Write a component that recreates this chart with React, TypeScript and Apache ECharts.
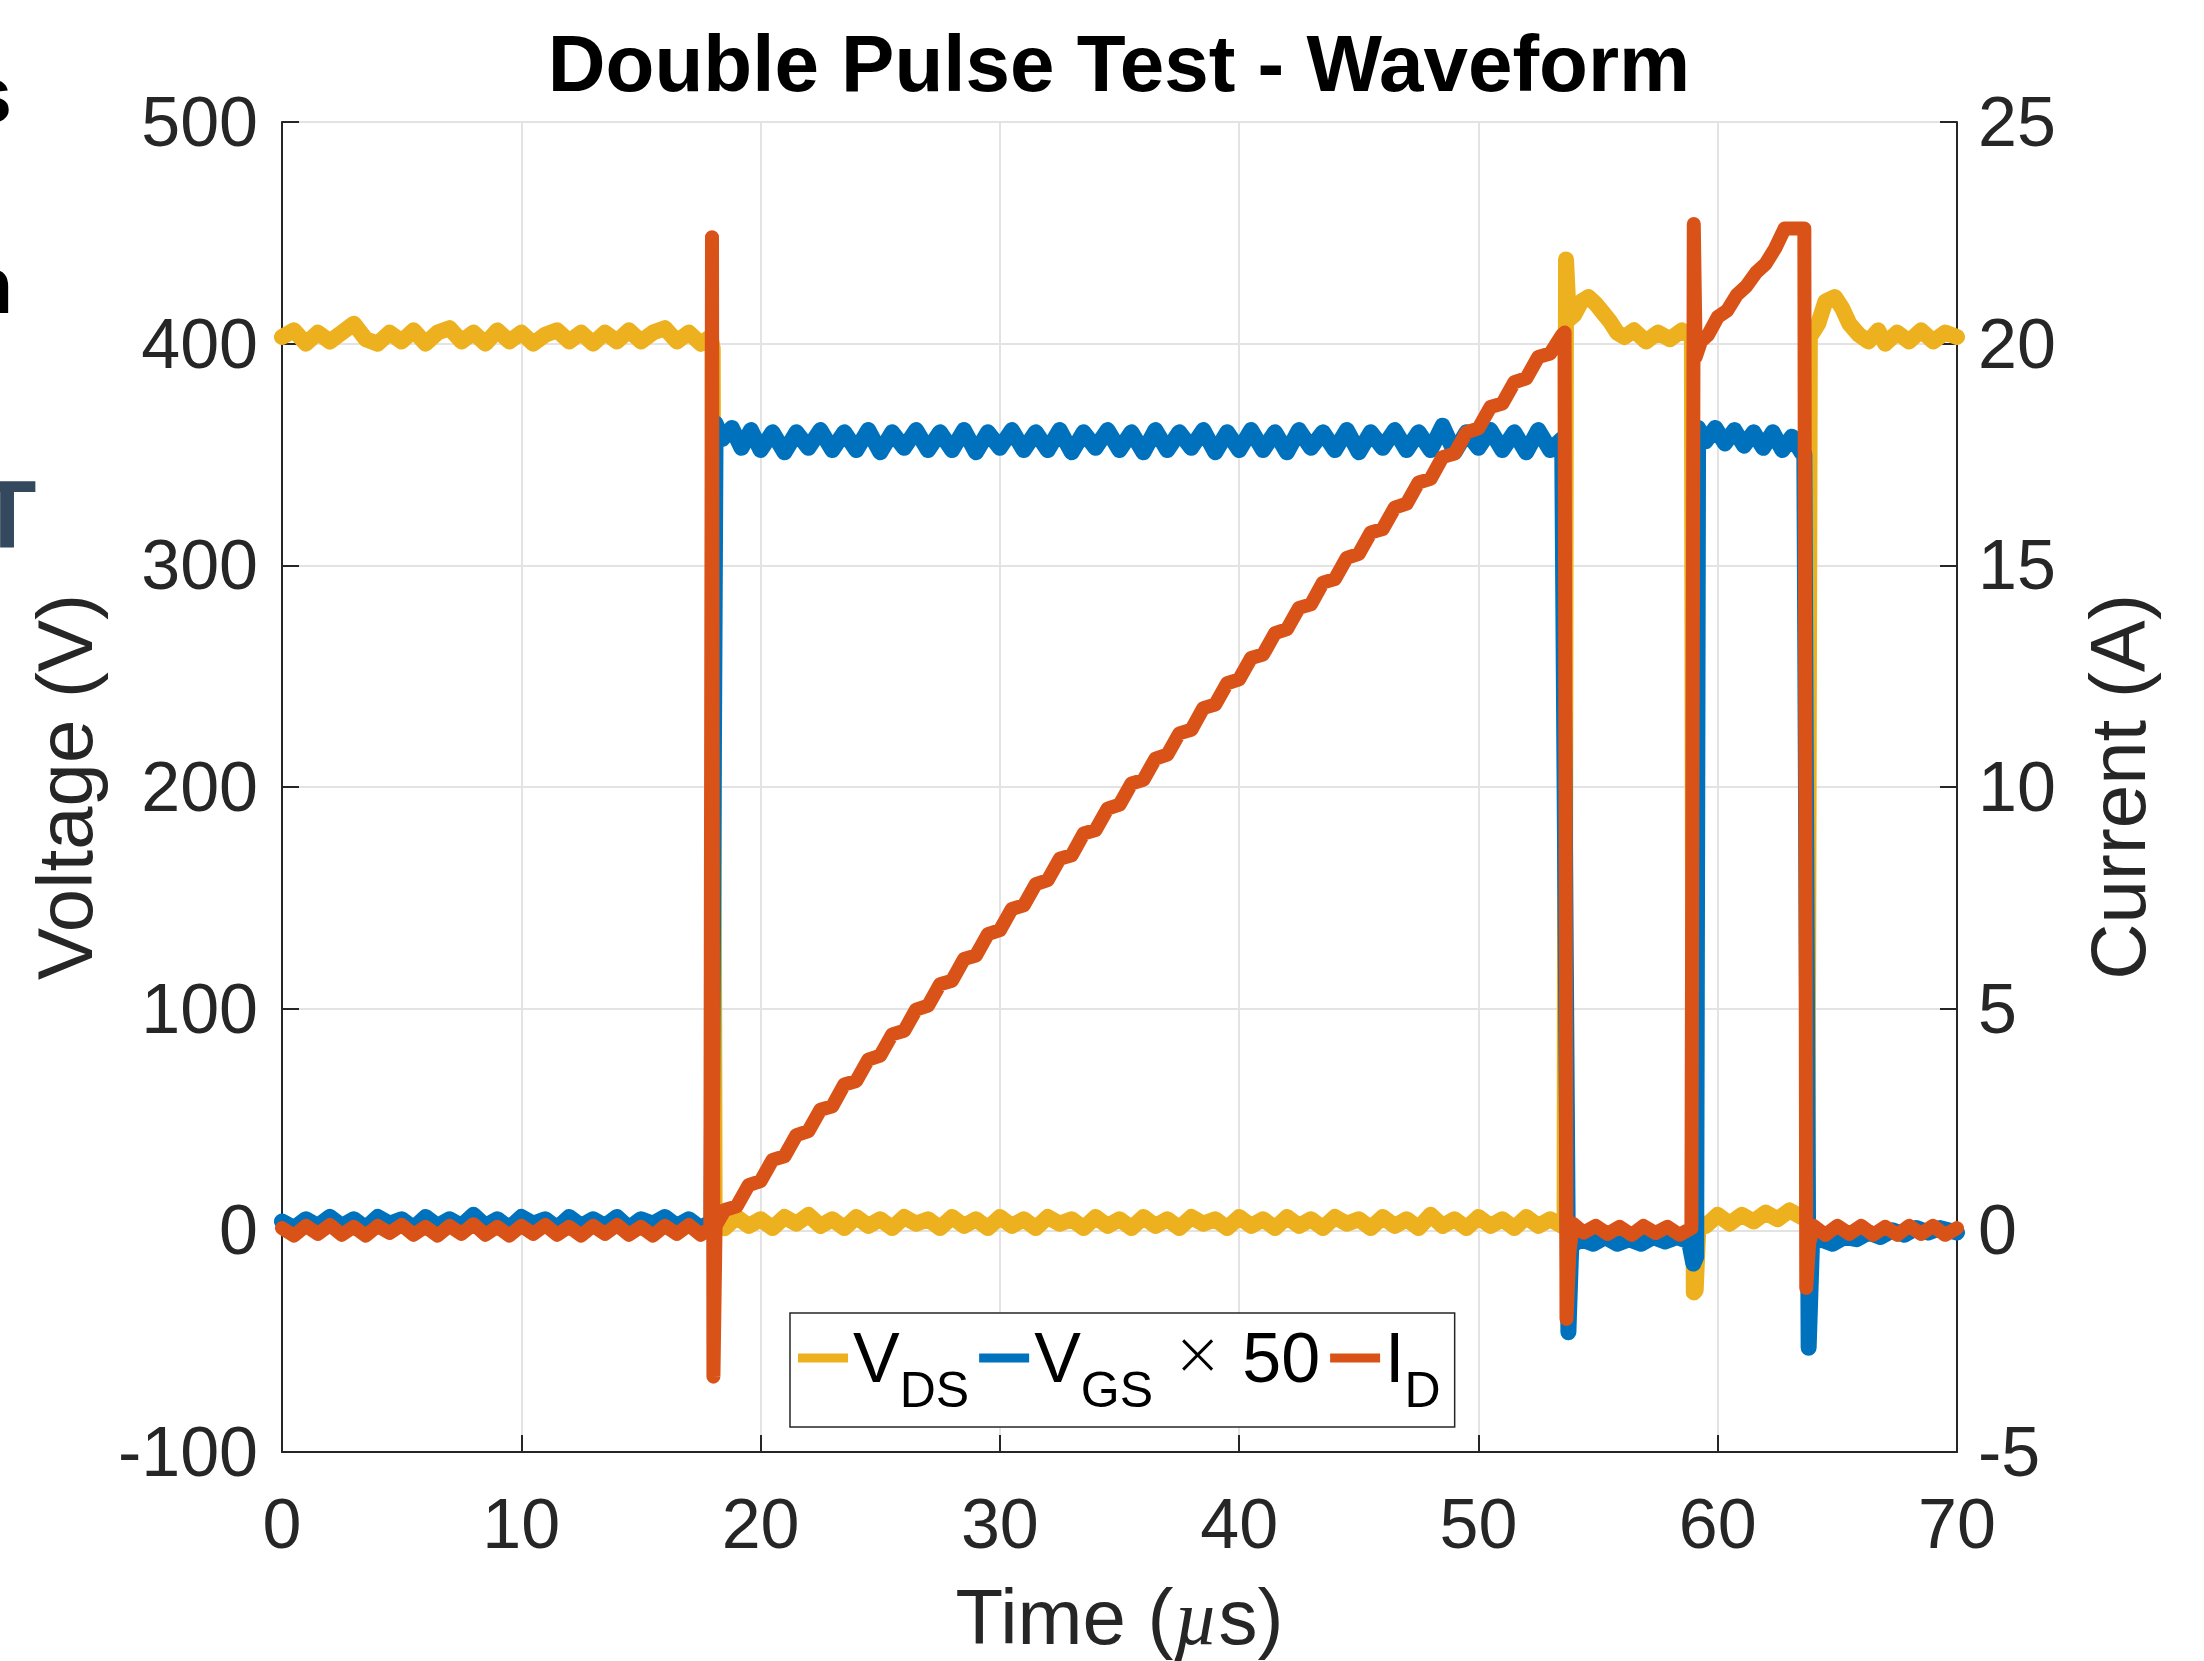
import React, { useEffect, useRef } from "react";
import * as echarts from "echarts";

const FONT = '"Liberation Sans", Arial, Helvetica, sans-serif';

const titleText = "Double Pulse Test - Waveform";
const seriesNames = ["VDS", "VGS", "ID"];
const seriesColors = ["#EDB120", "#0072BD", "#D95319"];
const seriesWidths = [16, 16, 14];

// V_DS (V) vs time (µs)
const vds: [number, number][] = [
  [0, 403], [0.5, 406], [1, 400], [1.5, 405], [2, 401], [2.5, 405], [3, 409], [3.5, 402], [4, 400], [4.5, 405],
  [5, 401], [5.5, 406], [6, 400], [6.5, 405], [7, 407], [7.5, 401], [8, 405], [8.5, 400], [9, 406], [9.5, 401],
  [10, 405], [10.5, 400], [11, 404], [11.5, 406], [12, 401], [12.5, 405], [13, 400], [13.5, 405], [14, 401], [14.5, 406],
  [15, 401], [15.5, 405], [16, 407], [16.5, 401], [17, 405], [17.5, 400], [17.9, 403], [18.0, 398],
  [18.08, 4], [18.5, 1], [19, 6], [19.5, 2], [20, 5], [20.5, 1], [21, 6], [21.5, 3], [22, 7], [22.5, 2],
  [23, 5], [23.5, 1], [24, 6], [24.5, 2], [25, 5], [25.5, 1], [26, 6], [26.5, 3], [27, 5], [27.5, 1],
  [28, 6], [28.5, 2], [29, 5], [29.5, 1], [30, 6], [30.5, 2], [31, 5], [31.5, 1], [32, 6], [32.5, 3],
  [33, 5], [33.5, 1], [34, 6], [34.5, 2], [35, 5], [35.5, 1], [36, 6], [36.5, 2], [37, 5], [37.5, 1],
  [38, 6], [38.5, 3], [39, 5], [39.5, 1], [40, 6], [40.5, 2], [41, 5], [41.5, 1], [42, 6], [42.5, 2],
  [43, 5], [43.5, 1], [44, 6], [44.5, 3], [45, 5], [45.5, 1], [46, 6], [46.5, 2], [47, 5], [47.5, 1],
  [48, 7], [48.5, 2], [49, 5], [49.5, 1], [50, 6], [50.5, 2], [51, 5], [51.5, 1], [52, 6], [52.5, 2],
  [53, 5], [53.5, 2],
  [53.6, 3], [53.66, 438], [53.78, 411], [54.0, 413], [54.3, 419], [54.6, 421], [54.9, 418], [55.2, 414], [55.5, 410], [55.8, 405],
  [56.1, 403], [56.5, 406], [57, 401], [57.5, 405], [58, 402], [58.5, 406], [58.92, 403], [59.0, -28], [59.08, -27], [59.2, 4],
  [59.5, 2], [60, 7], [60.5, 3], [61, 7], [61.5, 4], [62, 8], [62.5, 5], [63, 9], [63.5, 6], [63.75, 7],
  [63.85, 403], [64.2, 409], [64.5, 419], [64.9, 421], [65.2, 416], [65.5, 409], [65.9, 404], [66.3, 401], [66.7, 406], [67, 400],
  [67.5, 405], [68, 401], [68.5, 406], [69, 401], [69.5, 405], [70, 403],
];

// V_GS x 50 (V) vs time (µs)
const vgs: [number, number][] = [
  [0, 4], [0.5, 1], [1, 5], [1.5, 2], [2, 6], [2.5, 2], [3, 5], [3.5, 1], [4, 6], [4.5, 3],
  [5, 5], [5.5, 1], [6, 6], [6.5, 2], [7, 5], [7.5, 2], [8, 7], [8.5, 2], [9, 5], [9.5, 1],
  [10, 6], [10.5, 3], [11, 5], [11.5, 1], [12, 6], [12.5, 2], [13, 5], [13.5, 2], [14, 6], [14.5, 1],
  [15, 5], [15.5, 3], [16, 6], [16.5, 2], [17, 5], [17.5, 1], [17.95, 4],
  [18.12, 364], [18.4, 357], [18.8, 362], [19.2, 353], [19.6, 361], [20, 352], [20.5, 360], [21, 351], [21.5, 360], [22, 353],
  [22.5, 361], [23, 352], [23.5, 360], [24, 352], [24.5, 361], [25, 351], [25.5, 360], [26, 353], [26.5, 361], [27, 352],
  [27.5, 360], [28, 352], [28.5, 361], [29, 351], [29.5, 360], [30, 353], [30.5, 361], [31, 352], [31.5, 360], [32, 352],
  [32.5, 361], [33, 351], [33.5, 360], [34, 353], [34.5, 361], [35, 352], [35.5, 360], [36, 351], [36.5, 361], [37, 352],
  [37.5, 360], [38, 353], [38.5, 361], [39, 351], [39.5, 360], [40, 352], [40.5, 361], [41, 352], [41.5, 360], [42, 351],
  [42.5, 361], [43, 353], [43.5, 360], [44, 352], [44.5, 361], [45, 351], [45.5, 360], [46, 353], [46.5, 361], [47, 352],
  [47.5, 360], [48, 352], [48.5, 363], [49, 351], [49.5, 360], [50, 353], [50.5, 361], [51, 352], [51.5, 360], [52, 351],
  [52.5, 361], [53, 352], [53.5, 357],
  [53.76, -46], [53.88, -7], [54.3, -4], [54.8, -6], [55.3, -3], [55.8, -6], [56.3, -4], [56.8, -6], [57.3, -3], [57.8, -5],
  [58.3, -3], [58.8, -5], [58.98, -15], [59.1, -12], [59.18, 362], [59.5, 356], [59.9, 362], [60.3, 355], [60.7, 361], [61.1, 354],
  [61.5, 360], [61.9, 353], [62.3, 360], [62.7, 352], [63.1, 358], [63.5, 351], [63.62, 350],
  [63.8, -53], [63.94, -6], [64.3, -4], [64.8, -6], [65.3, -3], [65.8, -4], [66.3, -1], [66.8, -3], [67.3, 0], [67.8, -2],
  [68.3, 1], [68.8, -1], [69.3, 1], [70, -1],
];

// I_D (A) vs time (µs)
const idc: [number, number][] = [
  [0, 0.05], [0.5, -0.12], [1, 0.1], [1.5, -0.08], [2, 0.12], [2.5, -0.1], [3, 0.08], [3.5, -0.12], [4, 0.1], [4.5, -0.06],
  [5, 0.12], [5.5, -0.1], [6, 0.08], [6.5, -0.12], [7, 0.1], [7.5, -0.08], [8, 0.14], [8.5, -0.1], [9, 0.08], [9.5, -0.12],
  [10, 0.1], [10.5, -0.08], [11, 0.12], [11.5, -0.1], [12, 0.08], [12.5, -0.12], [13, 0.1], [13.5, -0.08], [14, 0.12], [14.5, -0.1],
  [15, 0.08], [15.5, -0.12], [16, 0.1], [16.5, -0.08], [17, 0.12], [17.5, -0.1], [17.9, 0.05],
  [17.97, 22.4], [18.03, -3.3], [18.12, 0.1],
  [18.5, 0.46], [19, 0.54], [19.5, 1.02], [20, 1.11], [20.5, 1.59], [21, 1.67], [21.5, 2.15], [22, 2.24], [22.5, 2.72], [23, 2.8],
  [23.5, 3.29], [24, 3.37], [24.5, 3.85], [25, 3.94], [25.5, 4.42], [26, 4.5], [26.5, 4.98], [27, 5.07], [27.5, 5.55], [28, 5.63],
  [28.5, 6.12], [29, 6.2], [29.5, 6.68], [30, 6.77], [30.5, 7.25], [31, 7.33], [31.5, 7.81], [32, 7.9], [32.5, 8.38], [33, 8.46],
  [33.5, 8.95], [34, 9.03], [34.5, 9.51], [35, 9.6], [35.5, 10.08], [36, 10.16], [36.5, 10.64], [37, 10.73], [37.5, 11.21], [38, 11.29],
  [38.5, 11.78], [39, 11.86], [39.5, 12.34], [40, 12.43], [40.5, 12.91], [41, 12.99], [41.5, 13.47], [42, 13.56], [42.5, 14.04], [43, 14.12],
  [43.5, 14.61], [44, 14.69], [44.5, 15.17], [45, 15.26], [45.5, 15.74], [46, 15.82], [46.5, 16.3], [47, 16.39], [47.5, 16.87], [48, 16.95],
  [48.5, 17.44], [49, 17.52], [49.5, 18.0], [50, 18.09], [50.5, 18.57], [51, 18.65], [51.5, 19.13], [52, 19.22], [52.5, 19.7], [53, 19.78],
  [53.5, 20.2], [53.6, 20.25],
  [53.68, -2.0], [53.8, -0.5], [53.95, 0.15], [54.4, -0.05], [54.9, 0.1], [55.4, -0.08], [55.9, 0.08], [56.4, -0.1], [56.9, 0.1], [57.4, -0.06],
  [57.9, 0.08], [58.4, -0.1], [58.9, 0.05],
  [59.0, 22.7], [59.08, 19.7], [59.3, 20.05], [59.6, 20.2], [60, 20.6], [60.4, 20.75], [60.8, 21.1], [61.2, 21.3], [61.6, 21.6], [62, 21.8],
  [62.4, 22.15], [62.8, 22.6], [63.2, 22.6], [63.62, 22.6],
  [63.7, -1.3], [63.82, -0.3], [64, 0.1], [64.5, -0.1], [65, 0.1], [65.5, -0.08], [66, 0.1], [66.5, -0.1], [67, 0.08], [67.5, -0.1],
  [68, 0.1], [68.5, -0.08], [69, 0.1], [69.5, -0.1], [70, 0.05],
];

const legendLabels: Record<string, string> = {
  VDS: "{m|V}{s|DS}",
  VGS: "{m|V}{s|GS}{m| }{x|×}{m| 50}",
  ID: "{m|I}{s|D}",
};

const AX = "#262626";
const GRID = "#e3e3e3";

export default function App() {
  const ref = useRef<HTMLDivElement>(null);
  useEffect(() => {
    document.body.style.margin = "0";
    const chart = echarts.init(ref.current!, null, { renderer: "svg" });
    const lineSeries = (name: string, idx: number, data: [number, number][], yAxisIndex: number) => ({
      type: "line",
      name,
      data,
      yAxisIndex,
      showSymbol: false,
      symbol: "none",
      silent: true,
      z: 2 + idx,
      lineStyle: { color: seriesColors[idx], width: seriesWidths[idx], cap: "round", join: "round" },
      itemStyle: { color: seriesColors[idx] },
    });
    const axisCommon = {
      axisLine: { show: true, onZero: false, lineStyle: { color: AX, width: 2 } },
      axisTick: { show: true, inside: true, length: 17, lineStyle: { color: AX, width: 2 } },
    };
    chart.setOption({
      animation: false,
      backgroundColor: "#ffffff",
      grid: { left: 282, right: 247, top: 122, bottom: 208, containLabel: false },
      xAxis: {
        type: "value",
        min: 0,
        max: 70,
        interval: 10,
        ...axisCommon,
        axisLabel: { fontSize: 70, color: AX, fontFamily: FONT, margin: 37 },
        splitLine: { show: true, lineStyle: { color: GRID, width: 2 } },
        name: "Time ({i|µ}s)",
        nameLocation: "middle",
        nameGap: 126,
        nameTextStyle: {
          fontSize: 78,
          color: AX,
          fontFamily: FONT,
          rich: { i: { fontSize: 78, fontStyle: "italic", fontFamily: '"Liberation Serif", serif', color: AX } },
        },
      },
      yAxis: [
        {
          type: "value",
          position: "left",
          min: -100,
          max: 500,
          interval: 100,
          ...axisCommon,
          axisLabel: { fontSize: 70, color: AX, fontFamily: FONT, margin: 24 },
          splitLine: { show: true, lineStyle: { color: GRID, width: 2 } },
          name: "Voltage (V)",
          nameLocation: "middle",
          nameRotate: 90,
          nameGap: 178,
          nameTextStyle: { fontSize: 78, color: AX, fontFamily: FONT },
        },
        {
          type: "value",
          position: "right",
          min: -5,
          max: 25,
          interval: 5,
          ...axisCommon,
          axisLabel: { fontSize: 70, color: AX, fontFamily: FONT, margin: 21 },
          splitLine: { show: false },
          name: "Current (A)",
          nameLocation: "middle",
          nameRotate: 90,
          nameGap: 122,
          nameTextStyle: { fontSize: 78, color: AX, fontFamily: FONT },
        },
      ],
      legend: {
        left: 790,
        top: 1313,
        orient: "horizontal",
        icon: "rect",
        itemWidth: 50,
        itemHeight: 9,
        itemGap: 10,
        padding: [10, 14, 12, 8],
        borderColor: AX,
        borderWidth: 1.5,
        borderRadius: 0,
        backgroundColor: "#ffffff",
        selectedMode: false,
        data: seriesNames,
        formatter: (name: string) => legendLabels[name],
        textStyle: {
          color: "#000",
          fontFamily: FONT,
          rich: {
            m: { fontSize: 70, lineHeight: 70, verticalAlign: "top", fontFamily: FONT, color: "#000" },
            x: { fontSize: 60, lineHeight: 70, verticalAlign: "top", fontFamily: '"DejaVu Sans", sans-serif', fontWeight: 300, color: "#000" },
            s: { fontSize: 50, lineHeight: 50, verticalAlign: "top", padding: [42, 0, 0, 0], fontFamily: FONT, color: "#000" },
          },
        },
      },
      graphic: [
        {
          type: "text",
          x: 1119,
          y: 63,
          style: { text: titleText, font: `bold 80px ${FONT}`, fill: "#000", textAlign: "center", textVerticalAlign: "middle" },
        },
        {
          type: "text",
          x: 12,
          y: 94,
          style: { text: "s", font: `bold 80px ${FONT}`, fill: "#000", textAlign: "right", textVerticalAlign: "middle" },
        },
        {
          type: "text",
          x: 13,
          y: 285,
          style: { text: "n", font: `bold 80px ${FONT}`, fill: "#000", textAlign: "right", textVerticalAlign: "middle" },
        },
        {
          type: "text",
          x: 7,
          y: 514,
          style: { text: "T", font: `bold 96px ${FONT}`, fill: "#34495E", textAlign: "center", textVerticalAlign: "middle" },
        },
      ],
      series: [
        lineSeries("VDS", 0, vds, 0),
        lineSeries("VGS", 1, vgs, 0),
        lineSeries("ID", 2, idc, 1),
      ],
    });
    return () => chart.dispose();
  }, []);
  return <div ref={ref} style={{ width: 2204, height: 1661, background: "#fff" }} />;
}
